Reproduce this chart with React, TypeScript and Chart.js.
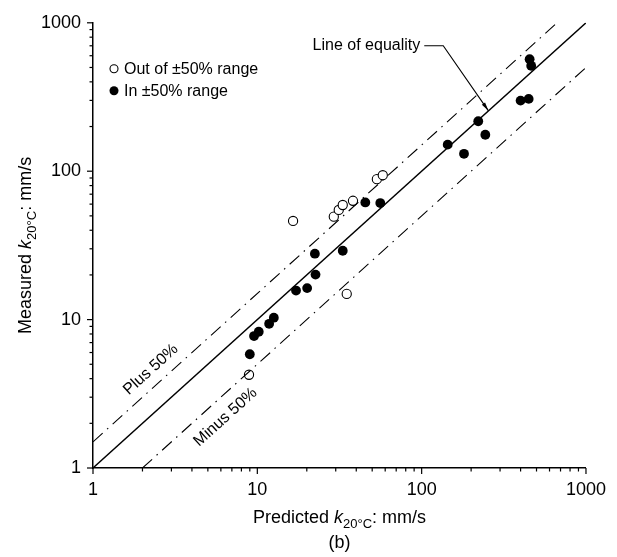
import React, { useEffect, useRef } from "react";
import { Chart, registerables } from "chart.js";

Chart.register(...registerables);

// ---- Data ----
const predictedIn = [9.0, 9.55, 10.2, 11.8, 12.6, 17.2, 20.1, 22.4, 22.6, 33.1, 45.4, 56.0, 144, 181, 221, 244, 400, 448, 454, 464];
const measuredIn = [5.84, 7.75, 8.28, 9.37, 10.3, 15.7, 16.3, 27.8, 20.1, 29.1, 61.6, 61.0, 151, 131, 217, 176, 299, 307, 568, 513];
const predictedOut = [8.9, 16.5, 29.2, 31.3, 33.1, 35.0, 38.2, 53.4, 58.0];
const measuredOut = [4.25, 46.2, 49.4, 54.8, 59.2, 14.9, 63.2, 88.4, 94.0];

const equalityX = [1, 1000];
const equalityY = [1, 1000];
const plusX = [1, 666.7];
const plusY = [1.5, 1000];
const minusX = [2, 1000];
const minusY = [1, 500];

const axisMin = 1;
const axisMax = 1000;
const majorTicks = [1, 10, 100, 1000];

const legendLabels = ["Out of ±50% range", "In ±50% range"];
const xTitle = ["Predicted ", "k", "20°C", ": mm/s"];
const yTitle = ["Measured ", "k", "20°C", ": mm/s"];

const FONT = "'Liberation Sans', Arial, Helvetica, sans-serif";

const zip = (xs: number[], ys: number[]) => xs.map((x, i) => ({ x, y: ys[i] }));

function drawTitle(ctx: CanvasRenderingContext2D, parts: string[], size: number, subSize: number) {
  const normal = `${size}px ${FONT}`;
  const italic = `italic ${size}px ${FONT}`;
  const sub = `${subSize}px ${FONT}`;
  const fonts = [normal, italic, sub, normal];
  const widths = parts.map((p, i) => {
    ctx.font = fonts[i];
    return ctx.measureText(p).width;
  });
  const total = widths.reduce((a, b) => a + b, 0);
  let x = -total / 2;
  ctx.textBaseline = "alphabetic";
  ctx.textAlign = "left";
  parts.forEach((p, i) => {
    ctx.font = fonts[i];
    ctx.fillText(p, x, i === 2 ? size * 0.3 : 0);
    x += widths[i];
  });
}

const decorPlugin = {
  id: "decor",
  afterDraw(chart: any) {
    const { ctx, chartArea, scales } = chart;
    const xs = scales.x;
    const ys = scales.y;
    ctx.save();
    ctx.fillStyle = "#000";
    ctx.strokeStyle = "#000";

    // tick marks (major longer than minor)
    ctx.lineWidth = 1.2;
    for (let d = 1; d <= axisMax; d *= 10) {
      for (let k = 1; k <= 9; k++) {
        const v = d * k;
        if (v > axisMax) break;
        const major = majorTicks.includes(v);
        const len = major ? 6 : 3.5;
        const px = xs.getPixelForValue(v);
        ctx.beginPath();
        ctx.moveTo(px, chartArea.bottom);
        ctx.lineTo(px, chartArea.bottom + len);
        ctx.stroke();
        const py = ys.getPixelForValue(v);
        ctx.beginPath();
        ctx.moveTo(chartArea.left, py);
        ctx.lineTo(chartArea.left - len, py);
        ctx.stroke();
      }
    }

    // legend
    const lx = chartArea.left + 21;
    const ly1 = chartArea.top + 46;
    const ly2 = chartArea.top + 68;
    ctx.lineWidth = 1.1;
    ctx.beginPath();
    ctx.arc(lx, ly1, 4, 0, Math.PI * 2);
    ctx.fillStyle = "#fff";
    ctx.fill();
    ctx.stroke();
    ctx.fillStyle = "#000";
    ctx.beginPath();
    ctx.arc(lx, ly2, 4.5, 0, Math.PI * 2);
    ctx.fill();
    ctx.font = `16px ${FONT}`;
    ctx.textBaseline = "middle";
    ctx.textAlign = "left";
    ctx.fillText(legendLabels[0], lx + 10, ly1 + 1);
    ctx.fillText(legendLabels[1], lx + 10, ly2 + 1);

    // angle of the diagonal lines in pixel space
    const ang = Math.atan2(
      ys.getPixelForValue(1000) - ys.getPixelForValue(1),
      xs.getPixelForValue(1000) - xs.getPixelForValue(1)
    );

    // Plus / Minus labels
    ctx.font = `16px ${FONT}`;
    ctx.textAlign = "center";
    ctx.textBaseline = "middle";
    ctx.save();
    ctx.translate(xs.getPixelForValue(2.25), ys.getPixelForValue(4.6));
    ctx.rotate(ang);
    ctx.fillText("Plus 50%", 0, 0);
    ctx.restore();

    ctx.save();
    ctx.translate(xs.getPixelForValue(6.4), ys.getPixelForValue(2.2));
    ctx.rotate(ang);
    ctx.fillText("Minus 50%", 0, 0);
    ctx.restore();

    // Line of equality annotation
    const tx = xs.getPixelForValue(21.7);
    const ty = ys.getPixelForValue(700);
    ctx.textAlign = "left";
    ctx.fillText("Line of equality", tx, ty);
    const tw = ctx.measureText("Line of equality").width;
    const ax0 = tx + tw + 4;
    const ax1 = ax0 + 19;
    const tipX = xs.getPixelForValue(255);
    const tipY = ys.getPixelForValue(255);
    ctx.lineWidth = 1.1;
    ctx.beginPath();
    ctx.moveTo(ax0, ty);
    ctx.lineTo(ax1, ty);
    ctx.lineTo(tipX, tipY);
    ctx.stroke();
    const a = Math.atan2(tipY - ty, tipX - ax1);
    ctx.beginPath();
    ctx.moveTo(tipX, tipY);
    ctx.lineTo(tipX - 9 * Math.cos(a - 0.22), tipY - 9 * Math.sin(a - 0.22));
    ctx.lineTo(tipX - 9 * Math.cos(a + 0.22), tipY - 9 * Math.sin(a + 0.22));
    ctx.closePath();
    ctx.fill();

    // axis titles
    const cx = (chartArea.left + chartArea.right) / 2;
    const cy = (chartArea.top + chartArea.bottom) / 2;
    ctx.save();
    ctx.translate(cx, 523);
    drawTitle(ctx, xTitle, 18, 13);
    ctx.restore();

    ctx.save();
    ctx.translate(31, cy);
    ctx.rotate(-Math.PI / 2);
    drawTitle(ctx, yTitle, 18, 13);
    ctx.restore();

    ctx.font = `18px ${FONT}`;
    ctx.textAlign = "center";
    ctx.textBaseline = "alphabetic";
    ctx.fillText("(b)", cx, 548);

    ctx.restore();
  },
};

export default function App() {
  const ref = useRef<HTMLCanvasElement | null>(null);

  useEffect(() => {
    if (!ref.current) return;
    const lineDs = (data: any, dash: number[], width: number) => ({
      type: "line",
      data,
      borderColor: "#000",
      borderWidth: width,
      borderDash: dash,
      pointRadius: 0,
      showLine: true,
      fill: false,
    });
    const dashDot = [13, 6, 1.5, 6];
    const chart = new Chart(ref.current, {
      type: "scatter",
      data: {
        datasets: [
          lineDs(zip(equalityX, equalityY), [], 1.4) as any,
          lineDs(zip(plusX, plusY), dashDot, 1.1) as any,
          lineDs(zip(minusX, minusY), dashDot, 1.1) as any,
          {
            label: legendLabels[1],
            data: zip(predictedIn, measuredIn),
            backgroundColor: "#000",
            borderColor: "#000",
            borderWidth: 0,
            pointRadius: 4.9,
          },
          {
            label: legendLabels[0],
            data: zip(predictedOut, measuredOut),
            backgroundColor: "#fff",
            borderColor: "#000",
            borderWidth: 1.1,
            pointRadius: 4.6,
          },
        ],
      },
      options: {
        responsive: false,
        animation: false,
        layout: { padding: { left: 0, top: 20, right: 28, bottom: 0 } },
        plugins: {
          legend: { display: false },
          tooltip: { enabled: false },
        },
        scales: {
          x: {
            type: "logarithmic",
            min: axisMin,
            max: axisMax,
            border: { color: "#000", width: 1.5 },
            grid: { display: true, drawOnChartArea: false, drawTicks: false },
            ticks: {
              autoSkip: false,
              maxRotation: 0,
              padding: 11,
              color: "#000",
              font: { family: FONT, size: 18 },
              callback: (v: any) => (majorTicks.includes(Number(v)) ? String(v) : ""),
            },
            afterFit: (s: any) => {
              s.height = 89;
            },
          },
          y: {
            type: "logarithmic",
            min: axisMin,
            max: axisMax,
            border: { color: "#000", width: 1.5 },
            grid: { display: true, drawOnChartArea: false, drawTicks: false },
            ticks: {
              autoSkip: false,
              padding: 12,
              color: "#000",
              font: { family: FONT, size: 18 },
              callback: (v: any) => (majorTicks.includes(Number(v)) ? String(v) : ""),
            },
            afterFit: (s: any) => {
              s.width = 93;
            },
          },
        },
      },
      plugins: [decorPlugin],
    } as any);
    return () => chart.destroy();
  }, []);

  return (
    <div style={{ position: "absolute", left: 0, top: 0, width: 617, height: 557, background: "#fff" }}>
      <canvas ref={ref} width={617} height={557} />
    </div>
  );
}
